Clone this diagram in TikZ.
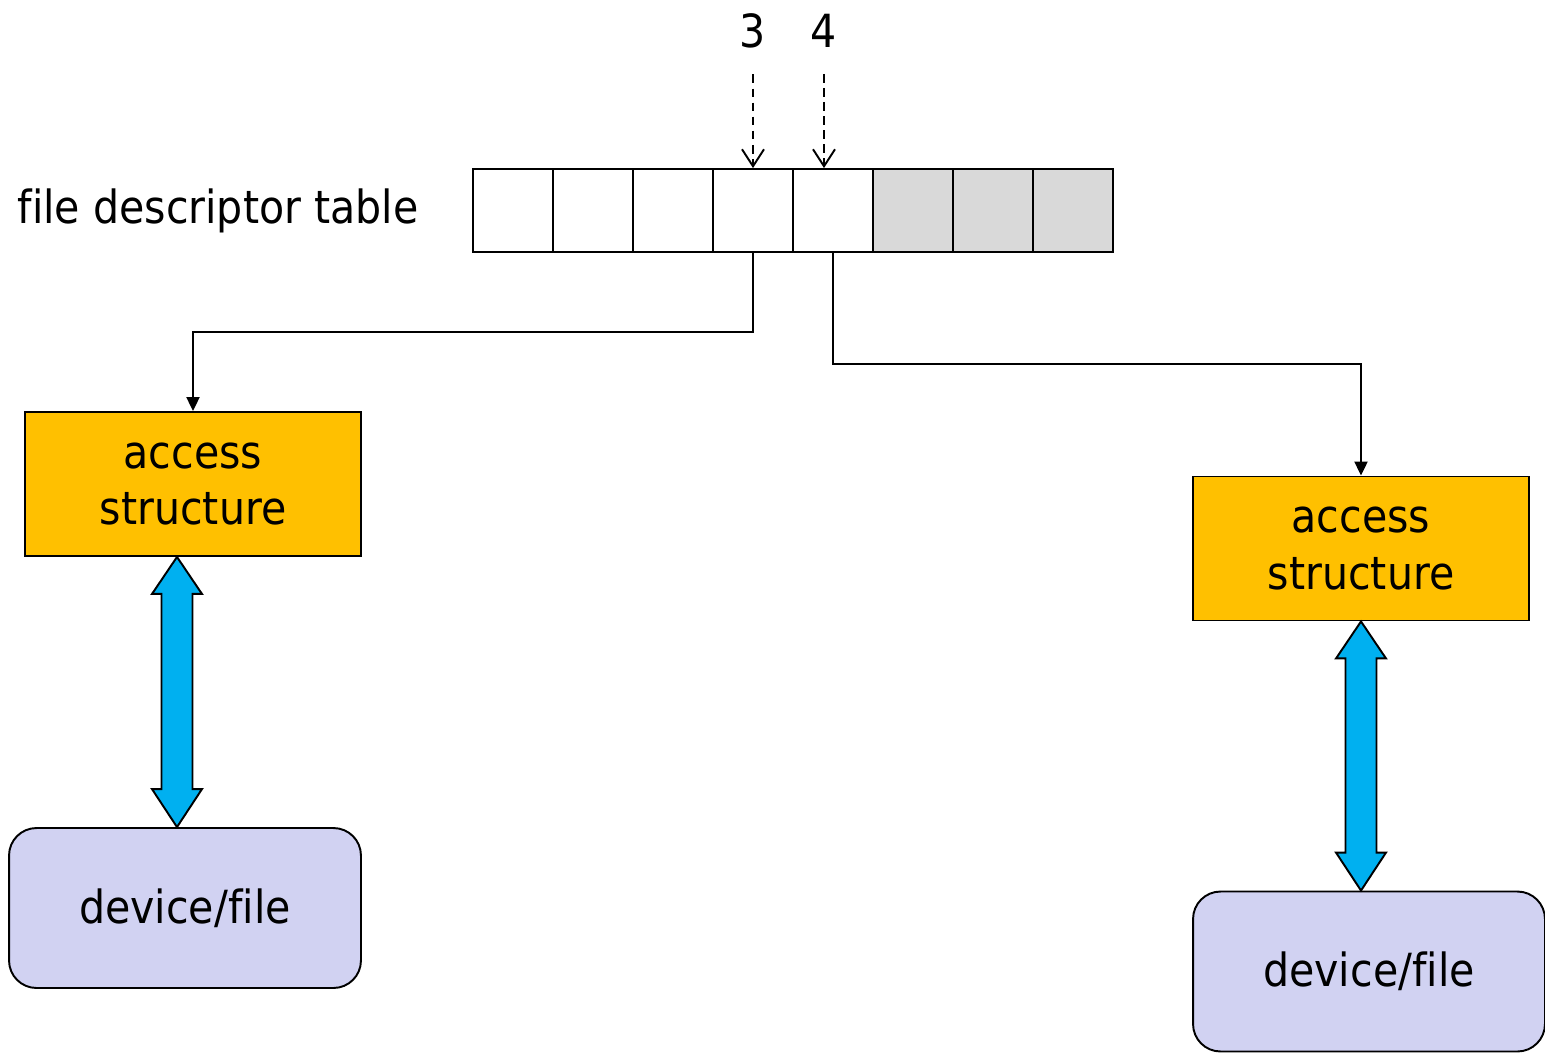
\documentclass[tikz,border=0pt]{standalone}
\usepackage{fontspec}
\setmainfont{DejaVu Sans Condensed}[Ligatures=NoCommon]
\usetikzlibrary{positioning,arrows.meta,calc}

\definecolor{accorange}{RGB}{255,192,0}
\definecolor{devlilac}{RGB}{209,210,242}
\definecolor{linkblue}{RGB}{0,176,240}
\definecolor{slotgray}{RGB}{217,217,217}

\begin{document}
\begin{tikzpicture}[
  x=0.02cm, y=-0.02cm,
  font=\fontsize{26}{32}\selectfont,
  cell/.style={rectangle, draw, line width=1.1pt, minimum width=1.6cm, minimum height=1.66cm, inner sep=0pt},
  access/.style={rectangle, draw, line width=1.1pt, fill=accorange, align=center, minimum width=6.72cm, minimum height=2.88cm,
    execute at begin node=\rule{0pt}{30pt}},
  device/.style={rectangle, draw, line width=1.1pt, fill=devlilac, rounded corners=0.55cm, minimum width=7.04cm, minimum height=3.2cm},
  conn/.style={-{Triangle[length=2.8mm,width=2.6mm]}, line width=1.2pt},
  idx/.style={-{Straight Barb[length=3.4mm,width=4.4mm]}, line width=1.1pt, dash pattern=on 5pt off 3pt},
  dbl/.style={draw, line width=1.1pt, fill=linkblue, line join=miter},
]
\useasboundingbox (0,0) rectangle (1545,1052);

% descriptor slots, the last three unused
\foreach \i in {1,...,8}{
  \ifnum\i>5
    \node[cell, fill=slotgray] (c\i) at ({473+80*(\i-0.5)},210.5) {};
  \else
    \node[cell] (c\i) at ({473+80*(\i-0.5)},210.5) {};
  \fi
}
\node[left=0.95cm of c1] (fdt) {file descriptor table};

% indices 3 and 4
\node (n3) at (753,31) {3};
\node (n4) at (824,31) {4};
\draw[idx, shorten <=0.4cm] (n3.south) -- (c4.north);
\draw[idx, shorten <=0.4cm] (n4.south) -- (n4.south |- c5.north);

% access structures and devices
\node[access] (acc1) at (193,484) {access\\structure};
\node[access] (acc2) at (1361,548.5) {access\\structure};
\node[device] (dev1) at (185,908) {device/file};
\node[device] (dev2) at (1369,971.5) {device/file};

\draw[conn] (c4.south) -- ++(0,79) -| (acc1.north);
\draw[conn] (c5.south) -- ++(0,111) -| (acc2.north);

% fat two-way links
\coordinate (t1) at ($(acc1.south)+(-16,0)$);
\coordinate (b1) at ($(dev1.north)+(-8,0)$);
\coordinate (t2) at (acc2.south);
\coordinate (b2) at ($(dev2.north)+(-8,0)$);
\draw[dbl] (t1) -- ++(25,37) -- ++(-9.5,0) -- ($(b1)+(15.5,-38)$) -- ++(9.5,0) -- (b1)
  -- ++(-25,-38) -- ++(9.5,0) -- ($(t1)+(-15.5,37)$) -- ++(-9.5,0) -- cycle;
\draw[dbl] (t2) -- ++(25,37) -- ++(-9.5,0) -- ($(b2)+(15.5,-38)$) -- ++(9.5,0) -- (b2)
  -- ++(-25,-38) -- ++(9.5,0) -- ($(t2)+(-15.5,37)$) -- ++(-9.5,0) -- cycle;
\end{tikzpicture}
\end{document}
